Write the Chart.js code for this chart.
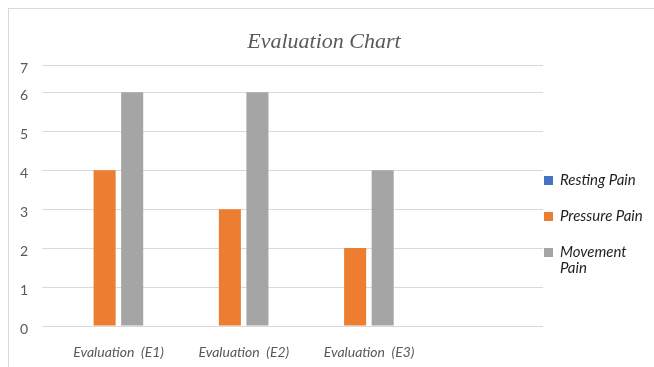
<!DOCTYPE html>
<html>
<head>
<meta charset="utf-8">
<script src="https://cdn.jsdelivr.net/npm/chart.js@4.4.1/dist/chart.umd.min.js"></script>
<style>
  html, body { margin: 0; padding: 0; background: #fff; overflow: hidden; width: 654px; height: 367px; }
  #marco { position: absolute; left: 8px; top: 8px; width: 700px; height: 400px; border-left: 1px solid #d9d9d9; border-top: 1px solid #d9d9d9; }
  #lienzo { position: absolute; left: 0; top: 0; }
</style>
</head>
<body>
<div id="marco"></div>
<canvas id="lienzo" width="654" height="367"></canvas>
<script>
const categorias = ['Evaluation  (E1)', 'Evaluation  (E2)', 'Evaluation  (E3)', ''];
const dolorReposo = [0, 0, 0, null];
const dolorPresion = [4, 3, 2, null];
const dolorMovimiento = [6, 6, 4, null];
const series = ['Resting Pain', 'Pressure Pain', 'Movement Pain'];
const colores = ['#4472C4', '#ED7D31', '#A5A5A5'];
// la linea de arriba en el original queda mas cerca del 6 que las demas
const valoresEjeY = [0, 1, 2, 3, 4, 5, 6, 6.7];
const etiquetasEjeY = ['0', '1', '2', '3', '4', '5', '6', '7'];

const leyendaPlugin = {
    id: 'leyendaDerecha',
    afterDraw(chart) {
        const ctx = chart.ctx;
        ctx.save();
        ctx.font = 'italic 15px Lato, "Open Sans", sans-serif';
        ctx.textBaseline = 'middle';
        const filas = [['Resting Pain'], ['Pressure Pain'], ['Movement', 'Pain']];
        const ys = [180, 216, 252];
        chart.data.datasets.forEach((ds, i) => {
            ctx.fillStyle = ds.backgroundColor;
            ctx.fillRect(544, ys[i] - 4, 9, 9);
            ctx.fillStyle = '#1f1f1f';
            filas[i].forEach((linea, j) => ctx.fillText(linea, 560, ys[i] + j * 16));
        });
        ctx.font = 'italic 22px "Liberation Serif", "DejaVu Serif", serif';
        ctx.fillStyle = '#595959';
        ctx.textAlign = 'center';
        ctx.fillText('Evaluation Chart', 324, 42);
        ctx.restore();
    }
};

const ctx = document.getElementById('lienzo').getContext('2d');
new Chart(ctx, {
    type: 'bar',
    data: {
        labels: categorias,
        datasets: [
            { label: series[0], data: dolorReposo, backgroundColor: colores[0] },
            { label: series[1], data: dolorPresion, backgroundColor: colores[1] },
            { label: series[2], data: dolorMovimiento, backgroundColor: colores[2] }
        ]
    },
    options: {
        responsive: false,
        animation: false,
        datasets: { bar: { categoryPercentage: 0.66, barPercentage: 0.8, borderWidth: 0 } },
        layout: { padding: { left: 0, right: 111, top: 65, bottom: 0 } },
        plugins: {
            legend: { display: false },
            title: { display: false },
            tooltip: { enabled: false }
        },
        scales: {
            x: {
                grid: { display: false },
                border: { display: false },
                ticks: {
                    color: '#595959',
                    font: { family: 'Lato, "Open Sans", sans-serif', size: 14, style: 'italic' },
                    padding: 10,
                    labelOffset: 14,
                    maxRotation: 0,
                    autoSkip: false
                },
                afterFit(s) { s.height = 41; }
            },
            y: {
                min: 0,
                max: 6.7,
                afterBuildTicks(s) { s.ticks = valoresEjeY.map(v => ({ value: v })); },
                grid: { color: '#d9d9d9', lineWidth: 1, drawTicks: false },
                border: { display: false },
                ticks: {
                    color: '#595959',
                    font: { family: 'Lato, "Open Sans", sans-serif', size: 14 },
                    padding: 14,
                    labelOffset: 3,
                    callback: (v, i) => etiquetasEjeY[i]
                },
                afterFit(s) { s.width = 42; }
            }
        }
    },
    plugins: [leyendaPlugin]
});
</script>
</body>
</html>
